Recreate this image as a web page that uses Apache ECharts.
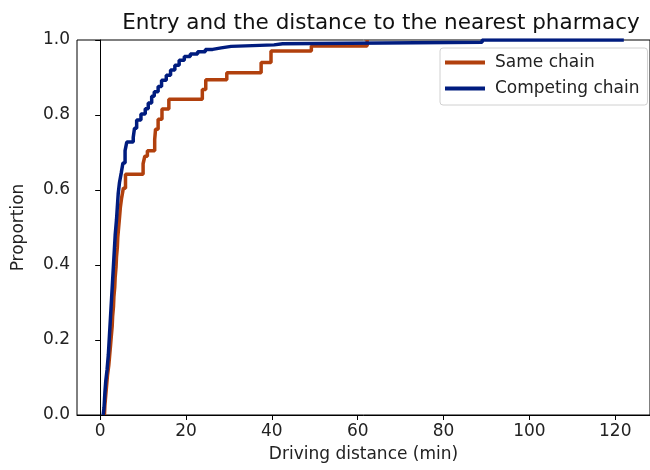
<!DOCTYPE html>
<html>
<head>
<meta charset="utf-8">
<script src="https://cdn.jsdelivr.net/npm/echarts@6/dist/echarts.min.js"></script>
<style>html,body{margin:0;padding:0;background:#fff}#c{width:650px;height:470px}</style>
</head>
<body>
<div id="c"></div>
<script>
// Series names
const seriesNames = ['Same chain', 'Competing chain'];
// Same chain ECDF corner points [distance (min), proportion]
const sameX = [1.0, 1.1, 1.3, 1.5, 1.7, 2.0, 2.2, 2.4, 2.6, 2.8, 2.9, 3.1, 3.2, 3.4, 3.5, 3.7, 3.8, 4.0, 4.1, 4.3, 4.5, 4.7, 5.0, 5.4, 5.9, 10.0, 10.4, 11.0, 12.7, 12.9, 13.5, 14.4, 16.0, 23.8, 24.6, 29.5, 37.5, 39.8, 49.2, 62.2];
const sameY = [0.0, 0.026, 0.053, 0.079, 0.105, 0.132, 0.158, 0.184, 0.211, 0.237, 0.263, 0.289, 0.316, 0.342, 0.368, 0.395, 0.421, 0.447, 0.474, 0.5, 0.526, 0.553, 0.579, 0.605, 0.642, 0.67, 0.69, 0.705, 0.735, 0.762, 0.789, 0.816, 0.842, 0.868, 0.894, 0.913, 0.94, 0.971, 0.984, 1.0];
// Competing chain ECDF corner points
const compX = [0.7, 0.9, 1.1, 1.3, 1.6, 1.9, 2.1, 2.3, 2.5, 2.7, 2.9, 3.1, 3.3, 3.5, 3.8, 4.0, 4.2, 4.5, 4.9, 5.3, 5.8, 6.2, 7.7, 8.0, 8.5, 9.5, 10.5, 11.2, 12.0, 12.6, 13.5, 14.3, 15.4, 16.4, 17.4, 18.4, 19.6, 21.0, 22.7, 24.5, 26.2, 28.2, 30.5, 40.5, 42.5, 89, 122];
const compY = [0.0, 0.02, 0.06, 0.09, 0.12, 0.16, 0.2, 0.24, 0.28, 0.32, 0.36, 0.4, 0.44, 0.48, 0.52, 0.555, 0.59, 0.62, 0.645, 0.672, 0.705, 0.728, 0.74, 0.765, 0.787, 0.803, 0.817, 0.832, 0.85, 0.862, 0.876, 0.893, 0.906, 0.92, 0.933, 0.946, 0.956, 0.963, 0.969, 0.975, 0.979, 0.983, 0.987, 0.99, 0.994, 1.0, 1.0];
// Axis ticks
const xTicks = [0, 20, 40, 60, 80, 100, 120];
const yTicks = [0.0, 0.2, 0.4, 0.6, 0.8, 1.0];

const zip = (xs, ys) => xs.map((x, i) => [x, ys[i]]);
const font = 'DejaVu Sans';
const chart = echarts.init(document.getElementById('c'), null, {renderer: 'canvas'});
chart.setOption({
  animation: false,
  backgroundColor: '#fff',
  title: {
    text: 'Entry and the distance to the nearest pharmacy',
    left: 376, top: 7, textAlign: 'center',
    textStyle: {fontFamily: font, fontSize: 21.5, fontWeight: 'normal', color: '#111'}
  },
  grid: {left: 77, right: -9, top: 40, bottom: 55, show: true, borderColor: '#000', borderWidth: 1, backgroundColor: 'transparent'},
  legend: {
    orient: 'vertical', left: 440, top: 48,
    itemWidth: 40, itemHeight: 4, itemGap: 9,
    padding: [6, 8, 8, 5],
    borderColor: '#d0d0d0', borderWidth: 1, borderRadius: 3,
    backgroundColor: 'rgba(255,255,255,0.8)',
    textStyle: {fontFamily: font, fontSize: 17, color: '#222', padding: [0, 0, 0, 5]},
    data: seriesNames.map(n => ({name: n, icon: 'rect'}))
  },
  xAxis: {
    type: 'value', min: -5.4, max: 128.1,
    name: 'Driving distance (min)', nameLocation: 'middle', nameGap: 31,
    nameTextStyle: {fontFamily: font, fontSize: 17, color: '#222'},
    axisLine: {show: true, onZero: false, lineStyle: {color: '#000', width: 1}},
    axisTick: {show: true, inside: false, length: 5, lineStyle: {color: '#000'},
      customValues: xTicks},
    axisLabel: {fontFamily: font, fontSize: 17, color: '#222', margin: 8,
      customValues: xTicks},
    splitLine: {show: false}
  },
  yAxis: {
    type: 'value', min: 0, max: 1, interval: 0.2,
    name: 'Proportion', nameLocation: 'middle', nameGap: 50,
    nameTextStyle: {fontFamily: font, fontSize: 17, color: '#222'},
    axisLine: {show: true, lineStyle: {color: '#000', width: 1}},
    axisTick: {show: true, inside: false, length: 5, lineStyle: {color: '#000'}},
    axisLabel: {fontFamily: font, fontSize: 17, color: '#222', margin: 7,
      formatter: v => yTicks.includes(+v.toFixed(1)) ? v.toFixed(1) : ''},
    splitLine: {show: false}
  },
  series: [
    {name: seriesNames[0], type: 'line', step: 'end', data: zip(sameX, sameY),
      showSymbol: false, symbol: 'none', color: '#b1400d', lineStyle: {width: 3.5, color: '#b1400d'}},
    {name: seriesNames[1], type: 'line', step: 'end', data: zip(compX, compY),
      showSymbol: false, symbol: 'none', color: '#001c7f', lineStyle: {width: 3.5, color: '#001c7f'}}
  ]
});
</script>
</body>
</html>
